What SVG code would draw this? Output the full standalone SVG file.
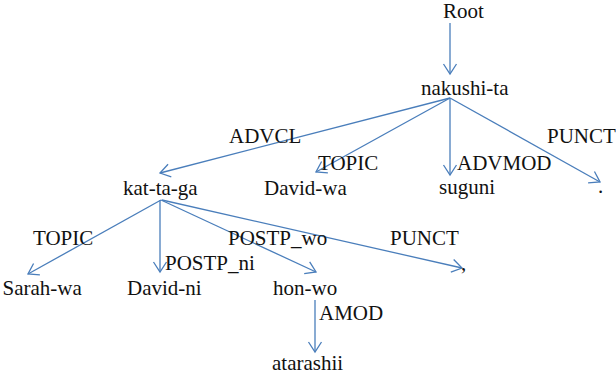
<svg xmlns="http://www.w3.org/2000/svg" width="616" height="374" viewBox="0 0 616 374">
  <style>
    .word { font-family: "Liberation Serif", "Times New Roman", serif; font-size: 21px; fill: #111; }
    .rel { font-family: "Liberation Serif", "Times New Roman", serif; font-size: 21px; fill: #111; }
    .edge { stroke: #4a7ebb; stroke-width: 1.3; fill: none; marker-end: url(#head); }
  </style>
  <defs>
    <marker id="head" markerUnits="userSpaceOnUse" markerWidth="14" markerHeight="16" viewBox="-12 -8 14 16" refX="0" refY="0" orient="auto">
      <path d="M-10,-6.5 L0,0 L-10,6.5" fill="none" stroke="#4a7ebb" stroke-width="1.3"/>
    </marker>
  </defs>

  <!-- dependency arcs -->
  <g id="edges">
    <line class="edge" x1="450" y1="23" x2="450" y2="74"/>
    <line class="edge" x1="450" y1="98" x2="160" y2="173"/>
    <line class="edge" x1="450" y1="98" x2="316" y2="172"/>
    <line class="edge" x1="450" y1="98" x2="450" y2="175"/>
    <line class="edge" x1="450" y1="98" x2="600" y2="182"/>
    <line class="edge" x1="161" y1="200" x2="28" y2="274"/>
    <line class="edge" x1="160" y1="200" x2="160" y2="272"/>
    <line class="edge" x1="161" y1="200" x2="316" y2="272"/>
    <line class="edge" x1="162" y1="200" x2="462" y2="268"/>
    <line class="edge" x1="315" y1="300" x2="315" y2="352"/>
  </g>

  <!-- relation labels -->
  <g id="labels">
    <text class="rel" x="229" y="143">ADVCL</text>
    <text class="rel" x="318" y="170">TOPIC</text>
    <text class="rel" x="457" y="170">ADVMOD</text>
    <text class="rel" x="547" y="143">PUNCT</text>
    <text class="rel" x="33" y="245">TOPIC</text>
    <text class="rel" x="165" y="270">POSTP_ni</text>
    <text class="rel" x="228" y="245">POSTP_wo</text>
    <text class="rel" x="390" y="245">PUNCT</text>
    <text class="rel" x="319" y="320">AMOD</text>
  </g>

  <!-- tokens -->
  <g id="root"><text class="word" x="443" y="18">Root</text></g>
  <g id="nakushi-ta"><text class="word" x="421" y="95">nakushi-ta</text></g>
  <g id="kat-ta-ga"><text class="word" x="123" y="195">kat-ta-ga</text></g>
  <g id="david-wa"><text class="word" x="264" y="195">David-wa</text></g>
  <g id="suguni"><text class="word" x="439" y="194">suguni</text></g>
  <g id="period"><text class="word" x="598" y="193">.</text></g>
  <g id="sarah-wa"><text class="word" x="2.5" y="295">Sarah-wa</text></g>
  <g id="david-ni"><text class="word" x="127" y="295">David-ni</text></g>
  <g id="hon-wo"><text class="word" x="273" y="295">hon-wo</text></g>
  <g id="comma"><text class="word" x="461" y="270">,</text></g>
  <g id="atarashii"><text class="word" x="272" y="370">atarashii</text></g>
</svg>
